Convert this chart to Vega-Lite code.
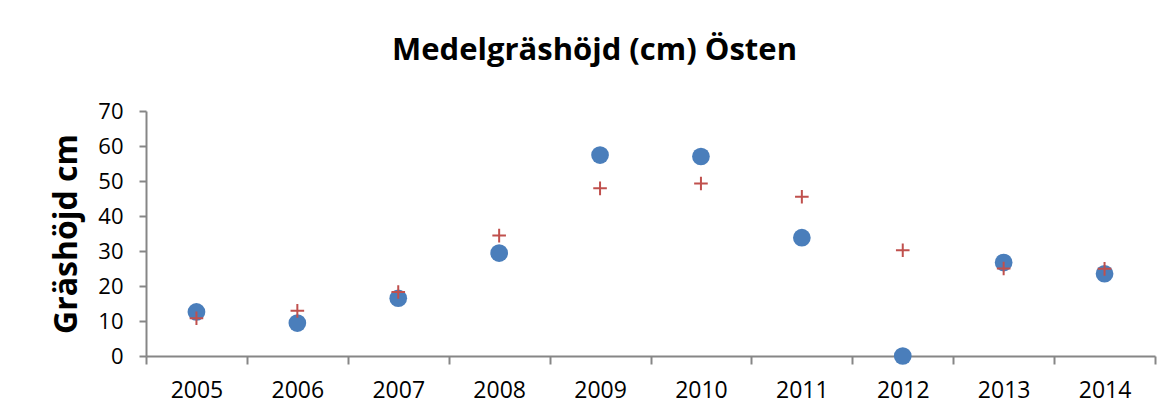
{
  "$schema": "https://vega.github.io/schema/vega-lite/v6.json",
  "width": 1009,
  "height": 245,
  "autosize": {"type": "none"},
  "padding": {"left": 146, "top": 111, "right": 20, "bottom": 60},
  "background": "white",
  "title": {
    "text": "Medelgräshöjd (cm) Östen",
    "font": "Open Sans",
    "fontSize": 31,
    "fontWeight": "bold",
    "color": "black",
    "anchor": "middle",
    "dx": -56,
    "offset": 33
  },
  "data": {
    "values": [
      {"year": "2005", "serie": "Serie 1", "value": 12.6},
      {"year": "2006", "serie": "Serie 1", "value": 9.4},
      {"year": "2007", "serie": "Serie 1", "value": 16.5},
      {"year": "2008", "serie": "Serie 1", "value": 29.4},
      {"year": "2009", "serie": "Serie 1", "value": 57.4},
      {"year": "2010", "serie": "Serie 1", "value": 57.0},
      {"year": "2011", "serie": "Serie 1", "value": 33.8},
      {"year": "2012", "serie": "Serie 1", "value": 0},
      {"year": "2013", "serie": "Serie 1", "value": 26.7},
      {"year": "2014", "serie": "Serie 1", "value": 23.5},
      {"year": "2005", "serie": "Serie 2", "value": 10.8},
      {"year": "2006", "serie": "Serie 2", "value": 12.9},
      {"year": "2007", "serie": "Serie 2", "value": 18.3},
      {"year": "2008", "serie": "Serie 2", "value": 34.4},
      {"year": "2009", "serie": "Serie 2", "value": 47.9},
      {"year": "2010", "serie": "Serie 2", "value": 49.3},
      {"year": "2011", "serie": "Serie 2", "value": 45.5},
      {"year": "2012", "serie": "Serie 2", "value": 30.2},
      {"year": "2013", "serie": "Serie 2", "value": 25.0},
      {"year": "2014", "serie": "Serie 2", "value": 24.9}
    ]
  },
  "encoding": {
    "x": {
      "field": "year",
      "type": "ordinal",
      "scale": {"paddingInner": 0, "paddingOuter": 0},
      "axis": {
        "title": null,
        "labelAngle": 0,
        "tickBand": "extent",
        "tickSize": 8,
        "labelPadding": 15,
        "labelFont": "Open Sans",
        "labelFontSize": 23,
        "labelColor": "black",
        "domainColor": "#868686",
        "tickColor": "#868686",
        "domainWidth": 2,
        "tickWidth": 2,
        "grid": false
      }
    },
    "y": {
      "field": "value",
      "type": "quantitative",
      "scale": {"domain": [0, 70], "nice": false},
      "axis": {
        "title": "Gräshöjd cm",
        "titleFont": "Open Sans",
        "titleFontSize": 32,
        "titleFontWeight": "bold",
        "titleColor": "black",
        "titlePadding": 14,
        "values": [0, 10, 20, 30, 40, 50, 60, 70],
        "tickSize": 7,
        "labelPadding": 16,
        "labelFont": "Open Sans",
        "labelFontSize": 22,
        "labelColor": "black",
        "domainColor": "#868686",
        "tickColor": "#868686",
        "domainWidth": 2,
        "tickWidth": 2,
        "grid": false
      }
    }
  },
  "layer": [
    {
      "transform": [{"filter": "datum.serie === 'Serie 1'"}],
      "mark": {"type": "point", "shape": "circle", "filled": true, "size": 314, "color": "#4A7EBB", "opacity": 1}
    },
    {
      "transform": [{"filter": "datum.serie === 'Serie 2'"}],
      "mark": {"type": "point", "shape": "M-1,0L1,0M0,-1L0,1", "filled": false, "size": 185, "color": "#C0504D", "strokeWidth": 2, "opacity": 1}
    }
  ],
  "config": {
    "view": {"stroke": null}
  }
}
